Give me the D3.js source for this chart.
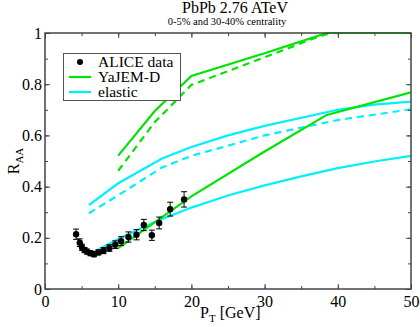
<!DOCTYPE html>
<html>
<head>
<meta charset="utf-8">
<script src="https://cdn.jsdelivr.net/npm/d3@7"></script>
<style>
  body { margin: 0; background: #fff; }
  svg { display: block; font-family: "Liberation Serif", "Times New Roman", serif; }
</style>
</head>
<body>
<svg width="420" height="327"></svg>
<script>
(() => {

    var width = 420;
    var height = 327;
    var margin = { top: 33, bottom: 38, left: 45, right: 9 };

    // ALICE data (pT, RAA, error)
    var alicePt  = [4.25, 4.75, 5.05, 5.4, 5.75, 6.2, 6.7, 7.3, 8.0, 8.8, 9.6, 10.4, 11.4, 12.5, 13.5, 14.6, 15.6, 17.1, 19.0];
    var aliceRaa = [0.214, 0.181, 0.163, 0.152, 0.146, 0.140, 0.136, 0.143, 0.150, 0.160, 0.173, 0.187, 0.203, 0.212, 0.250, 0.210, 0.258, 0.312, 0.350];
    var aliceErr = [0.02, 0.015, 0.012, 0.01, 0.01, 0.01, 0.01, 0.01, 0.012, 0.013, 0.015, 0.017, 0.02, 0.02, 0.022, 0.02, 0.023, 0.027, 0.03];

    // YaJEM-D (green)
    var yajemUpPt   = [10, 15, 20, 30, 38.5, 50];
    var yajemUp     = [0.521, 0.695, 0.832, 0.921, 1.0, 1.0];
    var yajemUpDPt  = [10, 15, 20, 30, 36.6, 39, 50];
    var yajemUpD    = [0.462, 0.652, 0.797, 0.905, 0.978, 1.0, 1.0];
    var yajemLowPt  = [10, 20, 30, 38.5, 50];
    var yajemLow    = [0.16, 0.362, 0.537, 0.68, 0.768];

    // elastic (cyan)
    var elUpPt   = [6, 10, 16, 20, 25, 30, 40, 45, 50];
    var elUp     = [0.328, 0.413, 0.51, 0.555, 0.60, 0.637, 0.70, 0.72, 0.732];
    var elUpDPt  = [6, 10, 16, 20, 30, 40, 50];
    var elUpD    = [0.296, 0.366, 0.475, 0.52, 0.60, 0.66, 0.702];
    var elLowPt  = [6, 8, 10, 15, 20, 25, 30, 35, 40, 45, 50];
    var elLow    = [0.133, 0.165, 0.195, 0.262, 0.318, 0.365, 0.405, 0.44, 0.472, 0.498, 0.52];

    var xTicks = [0, 10, 20, 30, 40, 50];
    var yTicks = [0, 0.2, 0.4, 0.6, 0.8, 1];

    var green = "#00e400";
    var cyan = "#00f0ff";

    var svg = d3.select('svg');

    var x = d3.scaleLinear().domain([0, 50]).range([margin.left, width - margin.right]);
    var y = d3.scaleLinear().domain([0, 1]).range([height - margin.bottom, margin.top]);

    // titles
    svg.append("text")
        .attr("x", 235).attr("y", 13)
        .attr("text-anchor", "middle")
        .style("font-size", "16px")
        .text("PbPb 2.76 ATeV");
    svg.append("text")
        .attr("x", 227).attr("y", 25)
        .attr("text-anchor", "middle")
        .style("font-size", "10.5px")
        .text("0-5% and 30-40% centrality");

    // clip
    svg.append("clipPath").attr("id", "clip")
        .append("rect")
        .attr("x", margin.left).attr("y", margin.top - 1)
        .attr("width", width - margin.left - margin.right)
        .attr("height", height - margin.top - margin.bottom + 1);

    var plot = svg.append("g").attr("clip-path", "url(#clip)");

    function pairs(xs, ys) {
        return xs.map(function (v, i) { return [v, ys[i]]; });
    }

    var line = d3.line()
        .x(function (d) { return x(d[0]); })
        .y(function (d) { return y(d[1]); });

    var curves = [
        { pts: pairs(elUpPt, elUp), color: cyan, dash: null },
        { pts: pairs(elUpDPt, elUpD), color: cyan, dash: "7,5" },
        { pts: pairs(elLowPt, elLow), color: cyan, dash: null },
        { pts: pairs(yajemUpPt, yajemUp), color: green, dash: null },
        { pts: pairs(yajemUpDPt, yajemUpD), color: green, dash: "7,5" },
        { pts: pairs(yajemLowPt, yajemLow), color: green, dash: null }
    ];

    curves.forEach(function (c) {
        plot.append("path")
            .attr("d", line(c.pts))
            .attr("fill", "none")
            .attr("stroke", c.color)
            .attr("stroke-width", 2.2)
            .attr("stroke-dasharray", c.dash);
    });

    // ALICE points with error bars
    var alice = alicePt.map(function (v, i) {
        return { pt: v, r: aliceRaa[i], e: aliceErr[i] };
    });

    var pts = plot.selectAll(".alice")
        .data(alice)
        .enter().append("g");

    pts.append("line")
        .attr("x1", function (d) { return x(d.pt); })
        .attr("x2", function (d) { return x(d.pt); })
        .attr("y1", function (d) { return y(d.r - d.e); })
        .attr("y2", function (d) { return y(d.r + d.e); })
        .attr("stroke", "#000").attr("stroke-width", 1);
    [-1, 1].forEach(function (s) {
        pts.append("line")
            .attr("x1", function (d) { return x(d.pt) - 3; })
            .attr("x2", function (d) { return x(d.pt) + 3; })
            .attr("y1", function (d) { return y(d.r + s * d.e); })
            .attr("y2", function (d) { return y(d.r + s * d.e); })
            .attr("stroke", "#000").attr("stroke-width", 1);
    });
    pts.append("circle")
        .attr("cx", function (d) { return x(d.pt); })
        .attr("cy", function (d) { return y(d.r); })
        .attr("r", 3.2)
        .attr("fill", "#000");

    // axes, ticks inward on all four sides
    var minorX = d3.range(0, 51, 5);
    var minorY = d3.range(0, 1.01, 0.1);

    function addAxis(axisFn, scale, pos, values, size, labels) {
        var a = axisFn(scale).tickValues(values).tickSizeInner(-size).tickSizeOuter(0);
        if (!labels) a.tickFormat("");
        else a.tickFormat(d3.format("~g")).tickPadding(size + 3);
        var g = svg.append("g").attr("transform", pos).call(a);
        g.select(".domain").remove();
        g.selectAll("line").attr("stroke", "#444");
        g.selectAll("text").attr("fill", "#000")
            .style("font-size", "16px")
            .style("font-family", "'Liberation Serif', 'Times New Roman', serif");
        return g;
    }

    var bottom = "translate(0," + (height - margin.bottom) + ")";
    var top = "translate(0," + margin.top + ")";
    var left = "translate(" + margin.left + ",0)";
    var right = "translate(" + (width - margin.right) + ",0)";

    addAxis(d3.axisBottom, x, bottom, minorX, 3, false);
    addAxis(d3.axisBottom, x, bottom, xTicks, 5, true)
        .selectAll("text").attr("dy", "0.6em");
    addAxis(d3.axisTop, x, top, minorX, 3, false);
    addAxis(d3.axisTop, x, top, xTicks, 5, false);
    addAxis(d3.axisLeft, y, left, minorY, 3, false);
    addAxis(d3.axisLeft, y, left, yTicks, 5, true)
        .selectAll("text").attr("x", -3).attr("dy", "0.32em");
    addAxis(d3.axisRight, y, right, minorY, 3, false);
    addAxis(d3.axisRight, y, right, yTicks, 5, false);

    // frame
    svg.append("rect")
        .attr("x", margin.left).attr("y", margin.top)
        .attr("width", width - margin.left - margin.right)
        .attr("height", height - margin.top - margin.bottom)
        .attr("fill", "none")
        .attr("stroke", "#444")
        .attr("stroke-width", 1.5);

    // axis titles
    var xl = svg.append("text")
        .attr("x", 200).attr("y", 318)
        .style("font-size", "16px");
    xl.append("tspan").text("P");
    xl.append("tspan").attr("dy", 4).style("font-size", "11px").text("T");
    xl.append("tspan").attr("dy", -4).text(" [GeV]");

    var yl = svg.append("text")
        .attr("transform", "translate(19,161) rotate(-90)")
        .attr("text-anchor", "middle")
        .style("font-size", "16px");
    yl.append("tspan").text("R");
    yl.append("tspan").attr("dy", 4).style("font-size", "11px").text("AA");

    // legend
    var lg = svg.append("g");
    lg.append("rect")
        .attr("x", 63.5).attr("y", 53.5)
        .attr("width", 117).attr("height", 47)
        .attr("fill", "#fff")
        .attr("stroke", "#555")
        .attr("stroke-width", 1);

    var legendItems = [
        { label: "ALICE data", type: "dot" },
        { label: "YaJEM-D", type: "line", color: green },
        { label: "elastic", type: "line", color: cyan }
    ];

    legendItems.forEach(function (d, i) {
        var cy = 62 + i * 15;
        if (d.type === "dot") {
            lg.append("circle").attr("cx", 80).attr("cy", cy).attr("r", 3).attr("fill", "#000");
        } else {
            lg.append("line")
                .attr("x1", 69).attr("x2", 91)
                .attr("y1", cy).attr("y2", cy)
                .attr("stroke", d.color).attr("stroke-width", 2.2);
        }
        lg.append("text")
            .attr("x", 98).attr("y", cy + 5)
            .style("font-size", "15.5px")
            .text(d.label);
    });

})();
</script>
</body>
</html>
